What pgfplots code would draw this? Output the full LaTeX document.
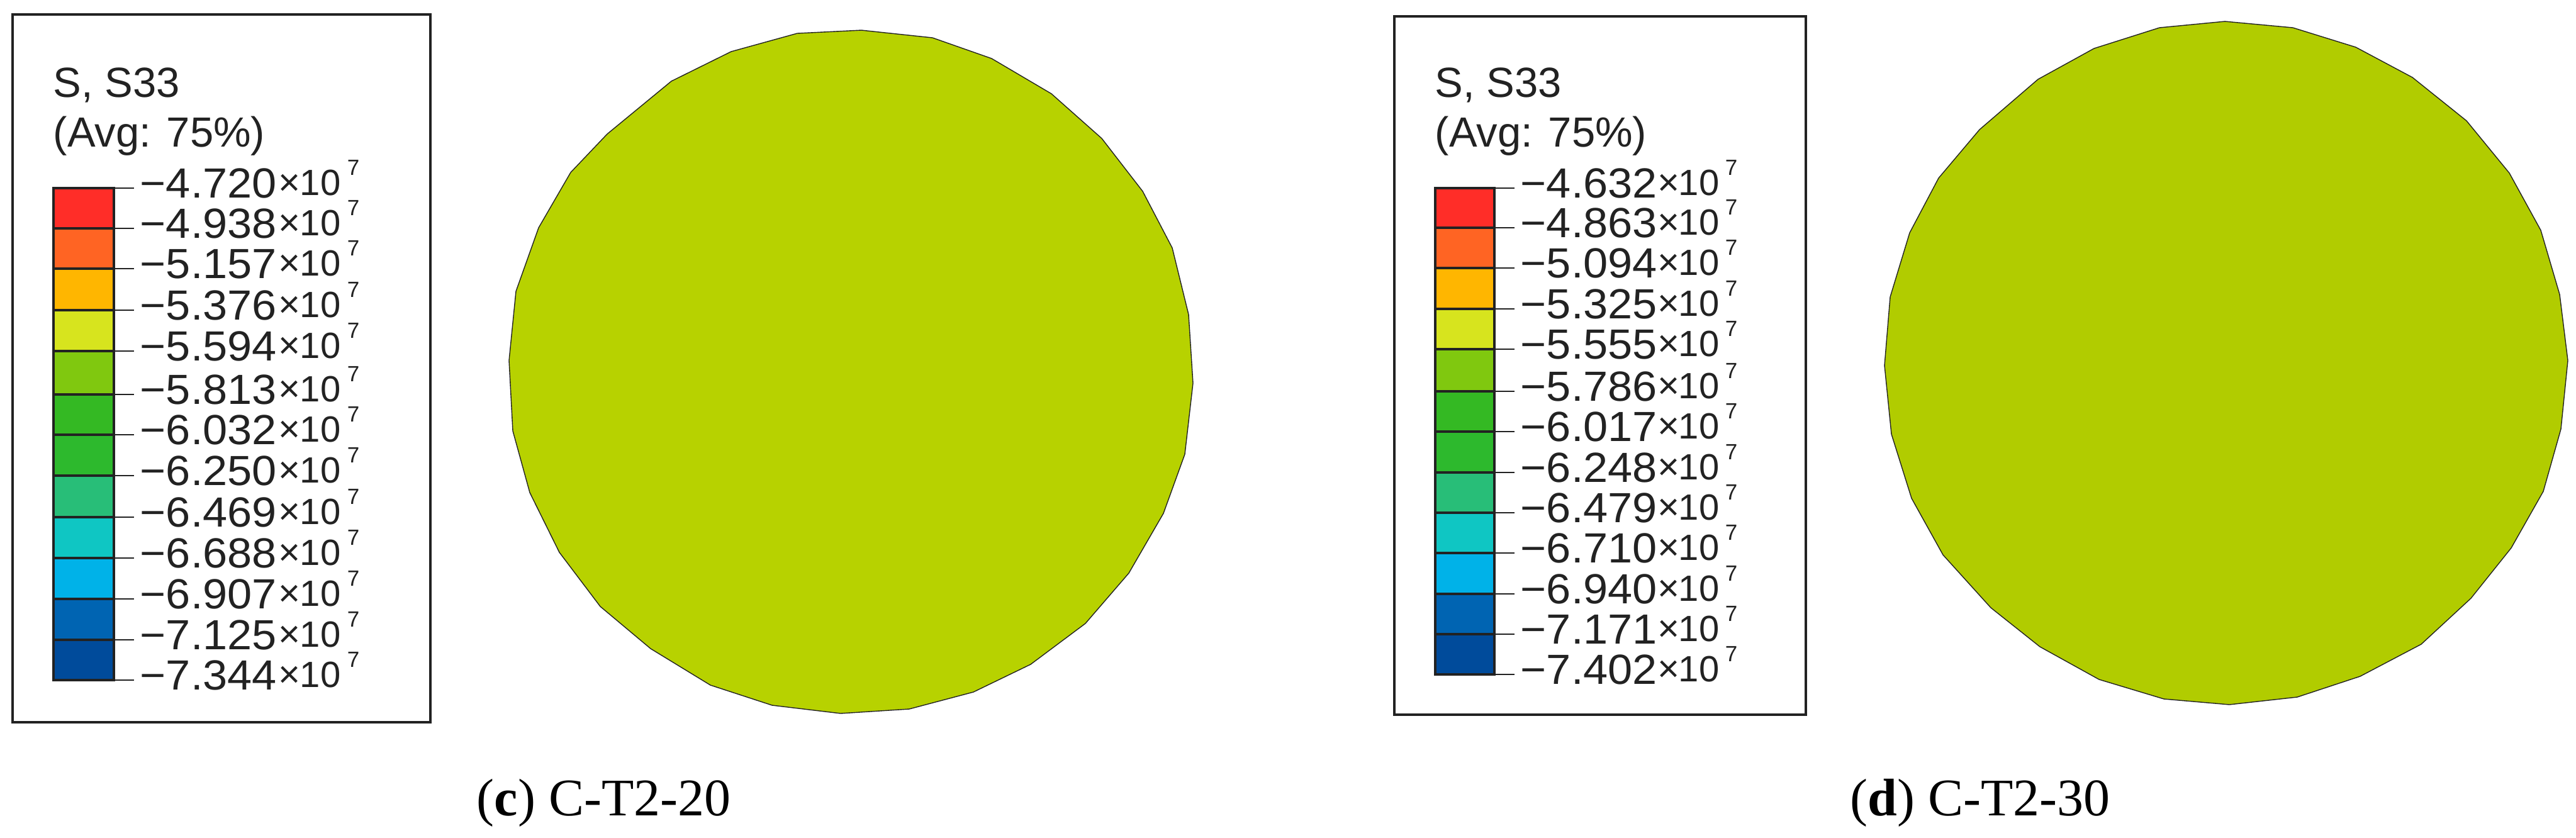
\documentclass[border=0pt]{standalone}
\usepackage{fontspec}
\setmainfont{Liberation Sans}
\newfontfamily\capfont{Liberation Serif}
\usepackage{graphicx}
\usepackage{pgfplots}
\pgfplotsset{compat=1.18}
\definecolor{ink}{HTML}{222222}
\definecolor{k1}{RGB}{255,45,40}
\definecolor{k2}{RGB}{255,100,35}
\definecolor{k3}{RGB}{255,182,0}
\definecolor{k4}{RGB}{215,228,30}
\definecolor{k5}{RGB}{128,200,15}
\definecolor{k6}{RGB}{52,185,35}
\definecolor{k7}{RGB}{45,185,45}
\definecolor{k8}{RGB}{40,190,120}
\definecolor{k9}{RGB}{15,198,195}
\definecolor{k10}{RGB}{0,178,232}
\definecolor{k11}{RGB}{0,100,178}
\definecolor{k12}{RGB}{0,75,155}
\definecolor{circC}{HTML}{B7D200}
\definecolor{circD}{HTML}{B1CC00}
\newcommand{\fpx}[1]{\fontsize{#1}{#1}\selectfont}
% one colour band: left, right, top, bottom, colour
\newcommand{\band}[5]{\addplot[fill=#5,draw=ink,line width=0.8pt] coordinates {(#1,#3)(#2,#3)(#2,#4)(#1,#4)} -- cycle;}
% one legend label: bar right, tick end, tick y, value x, times x, ten x, seven x, value
\newcommand{\row}[8]{%
\addplot[draw=ink,line width=0.6pt] coordinates {(#1,#3)(#2,#3)};
\node[anchor=base west,inner sep=0pt,text=ink] at (axis cs:#4,#3+15) {\fpx{16.75pt}\scalebox{1.05}[1]{\textminus#8}};
\node[anchor=base west,inner sep=0pt,text=ink] at (axis cs:#5,#3+11) {\fpx{15pt}×};
\node[anchor=base west,inner sep=0pt,text=ink] at (axis cs:#6,#3+11) {\fpx{14.5pt}10};
\node[anchor=base west,inner sep=0pt,text=ink] at (axis cs:#7,#3-21) {\fpx{8.75pt}7};
}
\begin{document}
\begin{tikzpicture}
\path[use as bounding box] (0,0) rectangle (1023.5pt,332.75pt);
\begin{axis}[at={(0,0)},anchor=south west,hide axis,scale only axis,
  width=1023.5pt,height=332.75pt,xmin=0,xmax=4094,ymin=0,ymax=1331,
  y dir=reverse,clip=false]
% legend frames
\addplot[draw=ink,line width=0.9pt] coordinates {(20,23)(684,23)(684,1148)(20,1148)} -- cycle;
\addplot[draw=ink,line width=0.9pt] coordinates {(2216,26)(2870,26)(2870,1136)(2216,1136)} -- cycle;
% sections
\addplot[fill=circC,draw=ink,line width=0.35pt] coordinates {
(1369,48)(1482,60)(1576,93)(1671,149)(1751,220)(1816,304)(1863,394)(1889,500)
(1896,609)(1883,722)(1849,816)(1794,911)(1725,991)(1638,1056)(1547,1100)(1445,1127)
(1336,1134)(1227,1121)(1129,1089)(1034,1031)(954,964)(889,878)(842,783)(815,685)
(809,573)(820,463)(856,362)(907,274)(965,213)(1067,129)(1162,82)(1267,53)} -- cycle;
\addplot[fill=circD,draw=ink,line width=0.35pt] coordinates {
(3536,34)(3644,44)(3744,75)(3834,123)(3920,192)(3988,275)(4038,366)(4068,468)
(4081,573)(4070,682)(4042,781)(3991,871)(3927,951)(3848,1024)(3751,1075)(3651,1108)
(3543,1120)(3439,1111)(3336,1080)(3242,1028)(3164,966)(3088,882)(3038,792)(3006,690)
(2995,581)(3004,472)(3035,370)(3081,283)(3146,206)(3239,126)(3328,77)(3432,44)} -- cycle;
% colour bar, left panel
\band{85}{181}{299}{363}{k1}\band{85}{181}{363}{427}{k2}\band{85}{181}{427}{493}{k3}
\band{85}{181}{493}{558}{k4}\band{85}{181}{558}{627}{k5}\band{85}{181}{627}{691}{k6}
\band{85}{181}{691}{756}{k7}\band{85}{181}{756}{822}{k8}\band{85}{181}{822}{887}{k9}
\band{85}{181}{887}{952}{k10}\band{85}{181}{952}{1017}{k11}\band{85}{181}{1017}{1081}{k12}
\row{181}{213}{299}{222}{442}{476}{551}{4.720}
\row{181}{213}{363}{222}{442}{476}{551}{4.938}
\row{181}{213}{427}{222}{442}{476}{551}{5.157}
\row{181}{213}{493}{222}{442}{476}{551}{5.376}
\row{181}{213}{558}{222}{442}{476}{551}{5.594}
\row{181}{213}{627}{222}{442}{476}{551}{5.813}
\row{181}{213}{691}{222}{442}{476}{551}{6.032}
\row{181}{213}{756}{222}{442}{476}{551}{6.250}
\row{181}{213}{822}{222}{442}{476}{551}{6.469}
\row{181}{213}{887}{222}{442}{476}{551}{6.688}
\row{181}{213}{952}{222}{442}{476}{551}{6.907}
\row{181}{213}{1017}{222}{442}{476}{551}{7.125}
\row{181}{213}{1081}{222}{442}{476}{551}{7.344}
% colour bar, right panel
\band{2281}{2375}{299}{362}{k1}\band{2281}{2375}{362}{426}{k2}\band{2281}{2375}{426}{491}{k3}
\band{2281}{2375}{491}{555}{k4}\band{2281}{2375}{555}{622}{k5}\band{2281}{2375}{622}{686}{k6}
\band{2281}{2375}{686}{751}{k7}\band{2281}{2375}{751}{815}{k8}\band{2281}{2375}{815}{879}{k9}
\band{2281}{2375}{879}{944}{k10}\band{2281}{2375}{944}{1008}{k11}\band{2281}{2375}{1008}{1072}{k12}
\row{2375}{2407}{299}{2416}{2634}{2667}{2741}{4.632}
\row{2375}{2407}{362}{2416}{2634}{2667}{2741}{4.863}
\row{2375}{2407}{426}{2416}{2634}{2667}{2741}{5.094}
\row{2375}{2407}{491}{2416}{2634}{2667}{2741}{5.325}
\row{2375}{2407}{555}{2416}{2634}{2667}{2741}{5.555}
\row{2375}{2407}{622}{2416}{2634}{2667}{2741}{5.786}
\row{2375}{2407}{686}{2416}{2634}{2667}{2741}{6.017}
\row{2375}{2407}{751}{2416}{2634}{2667}{2741}{6.248}
\row{2375}{2407}{815}{2416}{2634}{2667}{2741}{6.479}
\row{2375}{2407}{879}{2416}{2634}{2667}{2741}{6.710}
\row{2375}{2407}{944}{2416}{2634}{2667}{2741}{6.940}
\row{2375}{2407}{1008}{2416}{2634}{2667}{2741}{7.171}
\row{2375}{2407}{1072}{2416}{2634}{2667}{2741}{7.402}
% titles
\node[anchor=base west,inner sep=0pt,text=ink] at (axis cs:84,154) {\fpx{16.75pt}S, S33};
\node[anchor=base west,inner sep=0pt,text=ink] at (axis cs:84,233) {\fpx{16.75pt}(Avg: 75\%)};
\node[anchor=base west,inner sep=0pt,text=ink] at (axis cs:2280,154) {\fpx{16.75pt}S, S33};
\node[anchor=base west,inner sep=0pt,text=ink] at (axis cs:2280,233) {\fpx{16.75pt}(Avg: 75\%)};
% captions
\node[anchor=base west,inner sep=0pt] at (axis cs:757,1296) {\capfont\fpx{21pt}(\textbf{c}) C-T2-20};
\node[anchor=base west,inner sep=0pt] at (axis cs:2940,1296) {\capfont\fpx{21pt}(\textbf{d}) C-T2-30};
\end{axis}
\end{tikzpicture}
\end{document}
